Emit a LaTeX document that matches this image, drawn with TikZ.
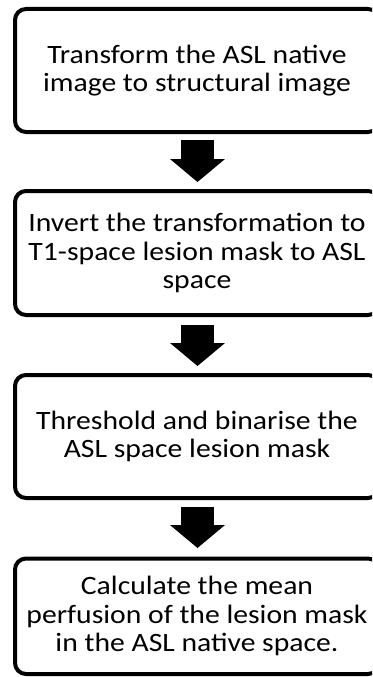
\documentclass[tikz,border=0pt]{standalone}
\usepackage{fontspec}
\setmainfont{Carlito}[FakeStretch=1.12]
\usetikzlibrary{arrows.meta}
\begin{document}
\begin{tikzpicture}[x=1pt,y=-1pt,
  stepbox/.style={draw, line width=4pt, rounded corners=11pt, minimum width=364pt,
    inner sep=0pt, align=center, font=\fontsize{26.5}{28.5}\selectfont},
  bigarrow/.style={line width=33pt, -{Triangle[width=55pt,length=23pt,line width=0pt]}}]
\useasboundingbox (0,0) rectangle (372,677);
\clip (0,0) rectangle (372,677);
\node[stepbox, minimum height=123pt] (b1) at (197,70.5) {Transform the ASL native\\image to structural image};
\node[stepbox, minimum height=124pt] (b2) at (197,253) {Invert the transformation to\\T1-space lesion mask to ASL\\space};
\node[stepbox, minimum height=123pt] (b3) at (197,436.5) {Threshold and binarise the\\ASL space lesion mask};
\node[stepbox, minimum height=115.5pt] (b4) at (197,616.25) {Calculate the mean\\perfusion of the lesion mask\\in the ASL native space.};
\draw[bigarrow, shorten <=6pt, shorten >=7pt] ([xshift=0.5pt]b1.south) -- ([xshift=0.5pt]b2.north);
\draw[bigarrow, shorten <=8pt, shorten >=7pt] ([xshift=0.5pt]b2.south) -- ([xshift=0.5pt]b3.north);
\draw[bigarrow, shorten <=7pt, shorten >=8.5pt] ([xshift=0.5pt]b3.south) -- ([xshift=0.5pt]b4.north);
\end{tikzpicture}
\end{document}
